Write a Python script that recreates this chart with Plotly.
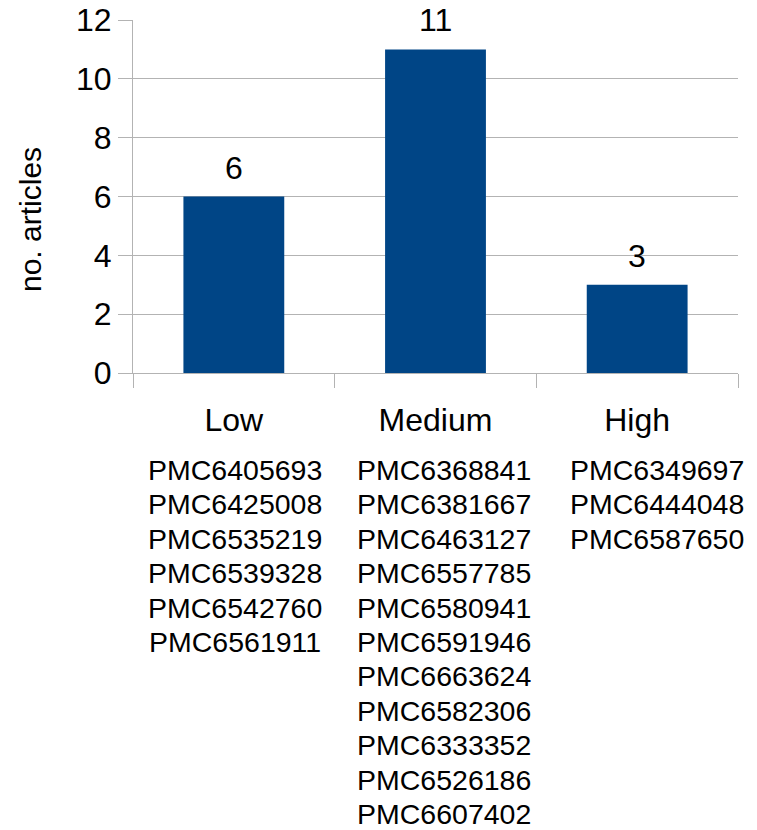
import plotly.graph_objects as go

categories = ["Low", "Medium", "High"]
counts = [6, 11, 3]
pmc_low = ["PMC6405693", "PMC6425008", "PMC6535219", "PMC6539328", "PMC6542760", "PMC6561911"]
pmc_medium = ["PMC6368841", "PMC6381667", "PMC6463127", "PMC6557785", "PMC6580941", "PMC6591946",
              "PMC6663624", "PMC6582306", "PMC6333352", "PMC6526186", "PMC6607402"]
pmc_high = ["PMC6349697", "PMC6444048", "PMC6587650"]
pmc_lists = [pmc_low, pmc_medium, pmc_high]
y_ticks = [0, 2, 4, 6, 8, 10, 12]

FONT = "Liberation Sans, Arial, sans-serif"
GRID = "#b3b3b3"
BAR = "#004586"

fig = go.Figure()
fig.add_trace(go.Bar(
    x=categories, y=counts, marker=dict(color=BAR, line=dict(width=0)),
    width=0.5, hoverinfo="skip",
))

annotations = []
for cat, val in zip(categories, counts):
    annotations.append(dict(
        x=cat, y=val, xref="x", yref="y", text=str(val), showarrow=False,
        yanchor="middle", yshift=29, font=dict(family=FONT, size=32, color="black"),
    ))

xshifts = [1, 8, 20]
LINE_H = 34.4
for cat, lst, xs in zip(categories, pmc_lists, xshifts):
    for k, pid in enumerate(lst):
        annotations.append(dict(
            x=cat, y=0, xref="x", yref="paper", yshift=-(97 + k * LINE_H), xshift=xs,
            text=pid, showarrow=False, yanchor="middle", xanchor="center",
            font=dict(family=FONT, size=28.5, color="black"),
        ))

annotations.append(dict(
    x=0, y=0.5, xref="paper", yref="paper", xshift=-121, yshift=-23, text="no. articles",
    textangle=-90, showarrow=False, font=dict(family=FONT, size=30, color="black"),
))

fig.update_layout(
    width=757, height=830,
    margin=dict(l=133, r=19, t=20, b=457, autoexpand=False),
    paper_bgcolor="white", plot_bgcolor="white",
    showlegend=False,
    font=dict(family=FONT, color="black"),
    annotations=annotations,
    xaxis=dict(
        type="category", range=[-0.5, 2.5], tickson="boundaries",
        ticks="outside", ticklen=14, tickcolor=GRID, tickwidth=1,
        showline=True, linecolor=GRID, linewidth=1, automargin=False,
        ticklabelstandoff=19,
        showgrid=False, tickfont=dict(family=FONT, size=32, color="black"),
        fixedrange=True,
    ),
    yaxis=dict(
        range=[0, 12], tickvals=y_ticks, ticks="outside", ticklen=14,
        tickcolor=GRID, tickwidth=1, showline=True, linecolor=GRID, linewidth=1,
        showgrid=True, gridcolor=GRID, gridwidth=1, zeroline=False, automargin=False,
        tickfont=dict(family=FONT, size=32, color="black"),
        fixedrange=True,
    ),
)

fig.write_html("out.html")
